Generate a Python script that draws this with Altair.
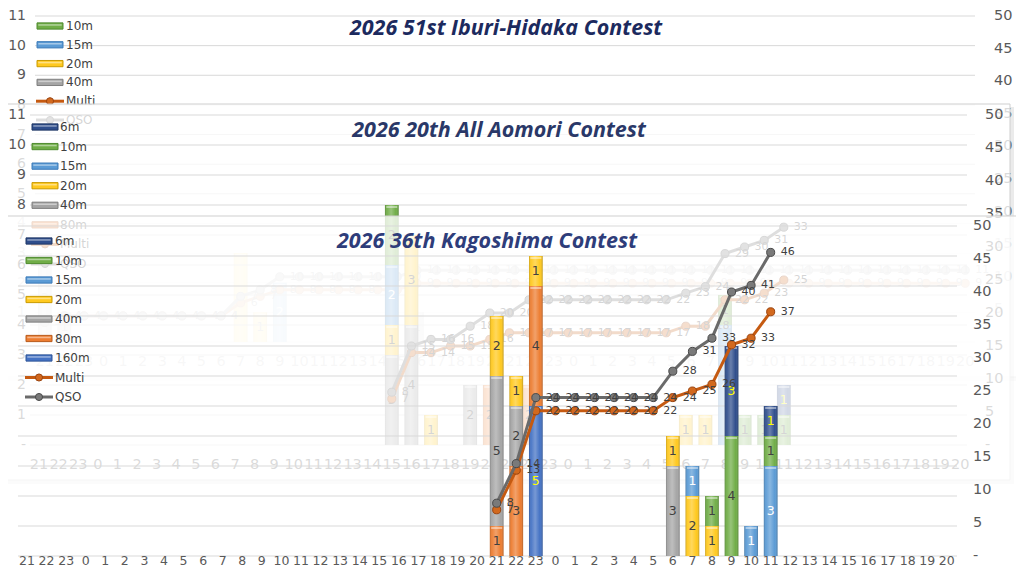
import altair as alt
import pandas as pd

# ---------------- data ----------------
IDX = list(range(48))
HOURS = [21, 22, 23, 0, 1, 2, 3, 4, 5, 6, 7, 8, 9, 10, 11, 12, 13, 14, 15, 16, 17, 18, 19, 20,
         21, 22, 23, 0, 1, 2, 3, 4, 5, 6, 7, 8, 9, 10, 11, 12, 13, 14, 15, 16, 17, 18, 19, 20]
LEFT_TICKS = [0, 1, 2, 3, 4, 5, 6, 7, 8, 9, 10, 11]
RIGHT_TICKS = [0, 5, 10, 15, 20, 25, 30, 35, 40, 45, 50]

BANDS = ["6m", "10m", "15m", "20m", "40m", "80m", "160m"]
BAND_COLORS = ["#2F4E8C", "#70AD47", "#5B9BD5", "#FFC91F", "#A5A5A5", "#ED7D31", "#4472C4"]
BAND_EDGES = ["#1F3764", "#4E8A2E", "#3C7AB8", "#C99A00", "#7F7F7F", "#B85A1B", "#2F5597"]
BAND_TEXT = ["#FFFF00", "#404040", "#FFFFFF", "#404040", "#404040", "#404040", "#FFFF00"]
STACK_RANK = [6, 5, 4, 3, 2, 1, 0]

# Chart 1 : Iburi-Hidaka
IH_TITLE = "2026 51st Iburi-Hidaka Contest"
IH_LEGEND = ["10m", "15m", "20m", "40m", "Multi", "QSO"]
IH_BAR_IDX = [0, 1, 10, 11, 12, 19]
IH_BAR_BAND = ["40m", "40m", "20m", "20m", "15m", "40m"]
IH_BAR_QSO = [3, 1, 3, 1, 2, 1]
IH_LINE_IDX = IDX
IH_QSO = [3, 4, 4, 4, 4, 4, 4, 4, 4, 4, 7, 8, 10, 10, 10, 10, 10, 10, 10, 11,
          11, 11, 11, 11, 11, 11, 11, 11, 11, 11, 11, 11, 11, 11, 11, 11, 11, 11,
          11, 11, 11, 11, 11, 11, 11, 11, 11, 11]
IH_MULTI = [3, 4, 4, 4, 4, 4, 4, 4, 4, 4, 6, 7, 8, 8, 8, 8, 8, 8, 8, 9,
            9, 9, 9, 9, 9, 9, 9, 9, 9, 9, 9, 9, 9, 9, 9, 9, 9, 9,
            9, 9, 9, 9, 9, 9, 9, 9, 9, 9]

# Chart 2 : All Aomori
AO_TITLE = "2026 20th All Aomori Contest"
AO_LEGEND = ["6m", "10m", "15m", "20m", "40m", "80m", "Multi", "QSO"]
AO_BAR_IDX = [18, 18, 18, 18, 19, 19, 20, 22, 23, 25, 33, 34, 35, 35, 36, 37, 38, 38]
AO_BAR_BAND = ["40m", "20m", "15m", "10m", "40m", "20m", "20m", "40m", "80m", "80m",
               "20m", "20m", "15m", "10m", "10m", "10m", "10m", "6m"]
AO_BAR_QSO = [3, 1, 2, 2, 4, 3, 1, 2, 2, 2, 1, 1, 4, 1, 1, 1, 1, 1]
AO_LINE_IDX = [18, 19, 20, 21, 22, 23, 24, 25, 26, 27, 28, 29, 30, 31, 32, 33, 34, 35, 36, 37, 38]
AO_QSO = [8, 15, 16, 16, 18, 20, 20, 22, 22, 22, 22, 22, 22, 22, 22, 23, 24, 29, 30, 31, 33]
AO_MULTI = [7, 14, 14, 15, 15, 16, 17, 17, 17, 17, 17, 17, 17, 17, 17, 18, 18, 22, 22, 23, 25]

# Chart 3 : Kagoshima (front)
KG_TITLE = "2026 36th Kagoshima Contest"
KG_LEGEND = ["6m", "10m", "15m", "20m", "40m", "80m", "160m", "Multi", "QSO"]
KG_BAR_IDX = [24, 24, 24, 25, 25, 25, 26, 26, 26, 33, 33, 34, 34, 35, 35, 36, 36, 37, 38, 38, 38]
KG_BAR_BAND = ["80m", "40m", "20m", "80m", "40m", "20m", "160m", "80m", "20m", "40m", "20m",
               "20m", "15m", "20m", "10m", "10m", "6m", "15m", "15m", "10m", "6m"]
KG_BAR_QSO = [1, 5, 2, 3, 2, 1, 5, 4, 1, 3, 1, 2, 1, 1, 1, 4, 3, 1, 3, 1, 1]
KG_LINE_IDX = [24, 25, 26, 27, 28, 29, 30, 31, 32, 33, 34, 35, 36, 37, 38]
KG_QSO = [8, 14, 24, 24, 24, 24, 24, 24, 24, 28, 31, 33, 40, 41, 46]
KG_MULTI = [7, 13, 22, 22, 22, 22, 22, 22, 22, 24, 25, 26, 32, 33, 37]

# ---------------- style / layout ----------------
FONT = "DejaVu Sans"
TFONT = "Open Sans"
W, H = 1008, 560          # page (with 8px body margins) is then exactly 1024 x 576
OFF = 8
MULTI_LINE, MULTI_MARK, MULTI_EDGE = "#C55A11", "#D2691E", "#9A430E"
QSO_LINE, QSO_MARK, QSO_EDGE = "#6A6A6A", "#7A7A7A", "#4A4A4A"
SWATCH = "M-1,-0.24H1V0.24H-1Z"
SWATCH_HI = "M-0.9,-0.14H0.9V-0.02H-0.9Z"

BEVEL = alt.LinearGradient(
    gradient="linear", x1=0, x2=1, y1=0, y2=0,
    stops=[alt.GradientStop(offset=0, color="rgba(0,0,0,0.22)"),
           alt.GradientStop(offset=0.15, color="rgba(255,255,255,0.05)"),
           alt.GradientStop(offset=0.45, color="rgba(255,255,255,0.28)"),
           alt.GradientStop(offset=0.8, color="rgba(255,255,255,0.0)"),
           alt.GradientStop(offset=1, color="rgba(0,0,0,0.25)")])


def p(v):
    return v - OFF


CHARTS = [
    dict(title=IH_TITLE, tpos=(506, 29), tcolor="#1C2A5E", panel=(1, 2, 1019, 377), alpha=1.0,
         band=(35, 975), ybot=342, ytop=16, grid=(35, 975), lx=26, rx=994, xly=362, xfs=14.5,
         legend=IH_LEGEND, leg_y=(26, 120), leg_cx=50, leg_tx=66,
         bar_idx=IH_BAR_IDX, bar_band=IH_BAR_BAND, bar_qso=IH_BAR_QSO,
         line_idx=IH_LINE_IDX, qso=IH_QSO, multi=IH_MULTI),
    dict(title=AO_TITLE, tpos=(499, 131), tcolor="#2A3868", panel=(-6, 104, 1010, 480), alpha=0.78,
         band=(29.2, 970), ybot=445, ytop=115, grid=(30, 967), lx=26, rx=985, xly=465, xfs=14.5,
         legend=AO_LEGEND, leg_y=(127, 264), leg_cx=45, leg_tx=60,
         bar_idx=AO_BAR_IDX, bar_band=AO_BAR_BAND, bar_qso=AO_BAR_QSO,
         line_idx=AO_LINE_IDX, qso=AO_QSO, multi=AO_MULTI),
    dict(title=KG_TITLE, tpos=(487, 242), tcolor="#2E3D7A", panel=(-6, 216, 1040, 600), alpha=0.78,
         band=(17.2, 956.6), ybot=556, ytop=226, grid=(18, 957), lx=None, rx=973, xly=561, xfs=12.5,
         legend=KG_LEGEND, leg_y=(241, 397), leg_cx=39, leg_tx=55,
         bar_idx=KG_BAR_IDX, bar_band=KG_BAR_BAND, bar_qso=KG_BAR_QSO,
         line_idx=KG_LINE_IDX, qso=KG_QSO, multi=KG_MULTI),
]


def build(c):
    L = []
    one = pd.DataFrame({"k": [0]})
    x0, y0, x1, y1 = c["panel"]
    # shadow strips
    L.append(alt.Chart(one).mark_rect(fill="#000000", opacity=0.08).encode(
        x=alt.value(p(x0 + 3)), x2=alt.value(p(x1 + 4)), y=alt.value(p(y1)), y2=alt.value(p(y1 + 4))))
    L.append(alt.Chart(one).mark_rect(fill="#000000", opacity=0.08).encode(
        x=alt.value(p(x1)), x2=alt.value(p(x1 + 4)), y=alt.value(p(y0 + 3)), y2=alt.value(p(y1))))
    L.append(alt.Chart(one).mark_rect(fill="#FFFFFF", fillOpacity=c["alpha"], stroke="#CFCFCF",
                                      strokeWidth=1).encode(
        x=alt.value(p(x0)), x2=alt.value(p(x1)), y=alt.value(p(y0)), y2=alt.value(p(y1))))

    xs = alt.Scale(type="band", domain=IDX, range=[p(c["band"][0]), p(c["band"][1])],
                   paddingInner=0.3, paddingOuter=0.15)
    yl = alt.Scale(domain=[0, 11], range=[p(c["ybot"]), p(c["ytop"])], nice=False, zero=False)
    yr = alt.Scale(domain=[0, 50], range=[p(c["ybot"]), p(c["ytop"])], nice=False, zero=False)
    XB = alt.X("idx:O", scale=xs, axis=None)
    XC = alt.X("idx:O", scale=xs, axis=None, bandPosition=0.5)

    # gridlines
    g = pd.DataFrame({"t": LEFT_TICKS})
    L.append(alt.Chart(g).mark_rule(color="#D9D9D9", strokeWidth=1).encode(
        y=alt.Y("t:Q", scale=yl, axis=None), x=alt.value(p(c["grid"][0])), x2=alt.value(p(c["grid"][1]))))
    # left axis labels
    if c["lx"] is not None:
        lab = pd.DataFrame({"t": LEFT_TICKS, "s": ["-" if t == 0 else str(t) for t in LEFT_TICKS]})
        L.append(alt.Chart(lab).mark_text(align="right", baseline="middle", fontSize=14, font=FONT,
                                          color="#595959").encode(
            y=alt.Y("t:Q", scale=yl, axis=None), x=alt.value(p(c["lx"])), text="s:N"))
    # right axis labels
    rl = pd.DataFrame({"t": RIGHT_TICKS, "s": ["-" if t == 0 else str(t) for t in RIGHT_TICKS]})
    L.append(alt.Chart(rl).mark_text(align="left", baseline="middle", fontSize=14.5, font=FONT,
                                     color="#595959").encode(
        y=alt.Y("t:Q", scale=yr, axis=None), x=alt.value(p(c["rx"])), text="s:N"))
    # x axis labels
    xl = pd.DataFrame({"idx": IDX, "s": [str(h) for h in HOURS]})
    L.append(alt.Chart(xl).mark_text(align="center", baseline="middle", fontSize=c["xfs"], font=FONT,
                                     color="#595959").encode(
        x=XC, y=alt.value(p(c["xly"])), text="s:N"))

    # stacked bars
    bars = pd.DataFrame({"idx": c["bar_idx"], "band": c["bar_band"], "qso": c["bar_qso"]})
    bars["rank"] = [STACK_RANK[BANDS.index(b)] for b in bars["band"]]
    base = alt.Chart(bars).transform_stack(
        stack="qso", groupby=["idx"], as_=["y0", "y1"], sort=[alt.SortField("rank", order="ascending")])
    Y0 = alt.Y("y0:Q", scale=yl, axis=None)
    L.append(base.mark_bar().encode(
        x=XB, y=Y0, y2="y1:Q",
        color=alt.Color("band:N", scale=alt.Scale(domain=BANDS, range=BAND_COLORS), legend=None)))
    L.append(base.mark_bar(fill=BEVEL).encode(x=XB, y=Y0, y2="y1:Q"))
    L.append(base.mark_tick(orient="horizontal", thickness=1.5, size=11, color="#FFFFFF",
                            opacity=0.6, yOffset=2).encode(
        x=XC, y=alt.Y("y1:Q", scale=yl, axis=None)))
    L.append(base.transform_calculate(ym="(datum.y0 + datum.y1) / 2").mark_text(
        fontSize=12.5, font=FONT, baseline="middle", align="center").encode(
        x=XC, y=alt.Y("ym:Q", scale=yl, axis=None), text="qso:Q",
        color=alt.Color("band:N", scale=alt.Scale(domain=BANDS, range=BAND_TEXT), legend=None)))

    # lines
    ln = pd.DataFrame({"idx": c["line_idx"], "multi": c["multi"], "qso": c["qso"]})
    for fld, lc, mc, ec in [("multi", MULTI_LINE, MULTI_MARK, MULTI_EDGE),
                            ("qso", QSO_LINE, QSO_MARK, QSO_EDGE)]:
        YV = alt.Y(f"{fld}:Q", scale=yr, axis=None)
        L.append(alt.Chart(ln).mark_line(color=lc, strokeWidth=3).encode(x=XC, y=YV))
        L.append(alt.Chart(ln).mark_point(filled=True, size=65, fill=mc, stroke=ec, strokeWidth=1,
                                          opacity=1).encode(x=XC, y=YV))
    for fld in ["multi", "qso"]:
        YV = alt.Y(f"{fld}:Q", scale=yr, axis=None)
        L.append(alt.Chart(ln).mark_text(align="left", baseline="middle", dx=10, fontSize=11,
                                         font=FONT, color="#404040").encode(
            x=XC, y=YV, text=f"{fld}:Q"))

    # legend
    leg = c["legend"]
    ys = alt.Scale(type="point", domain=leg, range=[p(c["leg_y"][0]), p(c["leg_y"][1])], padding=0)
    YL = alt.Y("lab:N", scale=ys, axis=None)
    cx = c["leg_cx"]
    lb = pd.DataFrame({"lab": [b for b in leg if b in BANDS]})
    L.append(alt.Chart(lb).mark_point(shape=SWATCH, size=676, filled=True, opacity=1, strokeWidth=1).encode(
        y=YL, x=alt.value(p(cx)),
        fill=alt.Fill("lab:N", scale=alt.Scale(domain=BANDS, range=BAND_COLORS), legend=None),
        stroke=alt.Stroke("lab:N", scale=alt.Scale(domain=BANDS, range=BAND_EDGES), legend=None)))
    L.append(alt.Chart(lb).mark_point(shape=SWATCH_HI, size=676, filled=True, fill="#FFFFFF",
                                      opacity=0.45, strokeWidth=0).encode(y=YL, x=alt.value(p(cx))))
    for name, lc, mc, ec in [("Multi", MULTI_LINE, MULTI_MARK, MULTI_EDGE),
                             ("QSO", QSO_LINE, QSO_MARK, QSO_EDGE)]:
        d = pd.DataFrame({"lab": [name]})
        L.append(alt.Chart(d).mark_rule(color=lc, strokeWidth=3).encode(
            y=YL, x=alt.value(p(cx - 14)), x2=alt.value(p(cx + 14))))
        L.append(alt.Chart(d).mark_point(filled=True, size=50, fill=mc, stroke=ec, strokeWidth=1,
                                         opacity=1).encode(y=YL, x=alt.value(p(cx))))
    lt = pd.DataFrame({"lab": leg})
    L.append(alt.Chart(lt).mark_text(align="left", baseline="middle", fontSize=12, font=FONT,
                                     color="#404040").encode(
        y=YL, x=alt.value(p(c["leg_tx"])), text="lab:N"))

    # title
    t = pd.DataFrame({"s": [c["title"]]})
    L.append(alt.Chart(t).mark_text(font=TFONT, fontWeight="bold", fontStyle="italic", fontSize=21.5,
                                    color=c["tcolor"], align="center", baseline="middle").encode(
        x=alt.value(p(c["tpos"][0])), y=alt.value(p(c["tpos"][1])), text="s:N"))
    return L


layers = []
for cfg in CHARTS:
    layers += build(cfg)

chart = alt.layer(*layers).resolve_scale(
    x="independent", y="independent", color="independent", fill="independent", stroke="independent"
).properties(
    width=W, height=H, padding=0, autosize=alt.AutoSizeParams(type="none"), background="#FFFFFF"
).configure_view(strokeWidth=0)

chart.save("out.html", embed_options={"renderer": "svg", "actions": False})
